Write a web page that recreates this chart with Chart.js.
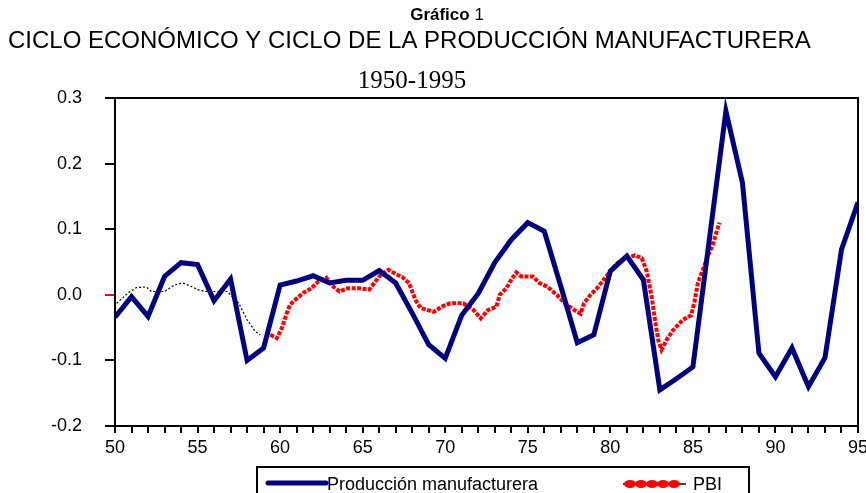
<!DOCTYPE html>
<html>
<head>
<meta charset="utf-8">
<script src="https://cdn.jsdelivr.net/npm/chart.js@4.4.1/dist/chart.umd.min.js"></script>
<style>
  body { margin: 0; background: #fff; }
  canvas { display: block; }
</style>
</head>
<body>
<canvas id="chart" width="866" height="493"></canvas>
<script>
const years = [50, 51, 52, 53, 54, 55, 56, 57, 58, 59, 60, 61, 62, 63, 64, 65, 66, 67, 68, 69, 70,
  71, 72, 73, 74, 75, 76, 77, 78, 79, 80, 81, 82, 83, 84, 85, 86, 87, 88, 89, 90, 91, 92, 93, 94, 95];
const manufactura = [-0.034, -0.003, -0.033, 0.028, 0.049, 0.046, -0.009, 0.024, -0.100, -0.081,
  0.015, 0.021, 0.029, 0.018, 0.022, 0.022, 0.037, 0.018, -0.028, -0.076, -0.097, -0.031, 0.002,
  0.049, 0.084, 0.110, 0.097, 0.013, -0.073, -0.061, 0.036, 0.059, 0.023, -0.145, -0.128, -0.110,
  0.085, 0.280, 0.171, -0.089, -0.125, -0.081, -0.140, -0.096, 0.069, 0.141];

const pbiYears = [50.1, 50.8, 51.3, 51.9, 52.2, 53.0, 53.6, 54.1, 54.6, 55.0, 55.45, 56.8, 57.5, 58.0,
  58.5, 58.8, 59.1, 59.4, 59.8, 60.1, 60.4, 60.6, 60.9, 61.4, 61.9, 62.3, 62.8, 63.1, 63.6, 64.1, 64.8,
  65.4, 65.7, 66.0, 66.55, 67.06, 67.4, 67.8, 68.0, 68.2, 68.5, 68.9, 69.3, 69.8, 70.3, 71.1, 71.7,
  72.15, 72.6, 73.1, 73.3, 73.7, 74.0, 74.3, 74.6, 75.3, 75.7, 76.2, 76.75, 77.25, 77.8, 78.2, 78.4,
  78.8, 79.2, 79.6, 80.0, 80.4, 80.9, 81.5, 81.9, 82.2, 82.5, 82.7, 82.9, 83.1, 83.4, 83.8, 84.4,
  84.9, 85.1, 85.3, 85.6, 85.9, 86.2, 86.6];
const pbi = [-0.013, 0.003, 0.011, 0.012, 0.005, 0.005, 0.015, 0.018, 0.013, 0.008, 0.005, 0.005,
  -0.013, -0.038, -0.056, -0.061, null, -0.061, -0.066, -0.051, -0.028, -0.015, -0.008, 0.003, 0.010,
  0.020, 0.026, 0.015, 0.005, 0.010, 0.010, 0.008, 0.018, 0.028, 0.038, 0.031, 0.027, 0.018, 0.005,
  -0.008, -0.020, -0.023, -0.026, -0.018, -0.013, -0.013, -0.023, -0.036, -0.023, -0.018, 0.000,
  0.010, 0.023, 0.034, 0.028, 0.028, 0.018, 0.012, 0.000, -0.013, -0.023, -0.029, -0.013, 0.000,
  0.010, 0.023, 0.036, 0.048, 0.056, 0.060, 0.056, 0.036, -0.003, -0.038, -0.069, -0.084, -0.069,
  -0.054, -0.038, -0.031, -0.010, 0.018, 0.038, 0.059, 0.076, 0.110];
const pbiRedFrom = 59; // before this the series is drawn as a thin black dotted trace

const yTicks = [-0.2, -0.1, 0.0, 0.1, 0.2, 0.3];

const NAVY = '#000080';
const RED = '#ff0000';
const SANS = '"Liberation Sans", Arial, sans-serif';

const chrome = {
  id: 'chrome',
  afterDraw(chart) {
    const ctx = chart.ctx;
    const a = chart.chartArea;
    ctx.save();
    // frame
    ctx.strokeStyle = '#000';
    ctx.lineWidth = 2;
    ctx.strokeRect(a.left, a.top, a.right - a.left, a.bottom - a.top);

    // titles
    ctx.fillStyle = '#000';
    ctx.textBaseline = 'alphabetic';
    ctx.textAlign = 'left';
    ctx.font = 'bold 17px ' + SANS;
    const w1 = ctx.measureText('Gráfico').width;
    ctx.font = '17px ' + SANS;
    const w2 = ctx.measureText(' 1').width;
    let x = 447 - (w1 + w2) / 2;
    ctx.font = 'bold 17px ' + SANS;
    ctx.fillText('Gráfico', x, 20);
    ctx.font = '17px ' + SANS;
    ctx.fillText(' 1', x + w1, 20);

    ctx.font = '24px ' + SANS;
    ctx.fillText('CICLO ECONÓMICO Y CICLO DE LA PRODUCCIÓN MANUFACTURERA', 8, 48);

    ctx.textAlign = 'center';
    ctx.font = '25px "Liberation Serif", "Times New Roman", serif';
    ctx.fillText('1950-1995', 412, 88);

    // legend box
    ctx.lineWidth = 2;
    ctx.strokeRect(257, 467, 492, 40);
    const ds = chart.data.datasets;
    ctx.lineCap = 'round';
    ctx.strokeStyle = ds[0].borderColor;
    ctx.lineWidth = 5;
    ctx.beginPath();
    ctx.moveTo(268, 483);
    ctx.lineTo(326, 483);
    ctx.stroke();

    ctx.lineCap = 'butt';
    ctx.strokeStyle = '#000';
    ctx.lineWidth = 1.5;
    ctx.beginPath();
    ctx.moveTo(623, 484);
    ctx.lineTo(686, 484);
    ctx.stroke();
    ctx.fillStyle = ds[1].borderColor;
    for (let i = 0; i < 5; i++) {
      ctx.beginPath();
      ctx.ellipse(630 + i * 11, 484, 6, 4, 0, 0, Math.PI * 2);
      ctx.fill();
    }

    ctx.fillStyle = '#000';
    ctx.textAlign = 'left';
    ctx.font = '18px ' + SANS;
    ctx.fillText(ds[0].label, 327, 490);
    ctx.fillText(ds[1].label, 693, 490);
    ctx.restore();
  }
};

new Chart(document.getElementById('chart'), {
  type: 'line',
  data: {
    datasets: [{
      label: 'Producción manufacturera',
      data: years.map((y, i) => ({ x: y, y: manufactura[i] })),
      borderColor: NAVY,
      borderWidth: 5,
      pointRadius: 0,
      tension: 0
    }, {
      label: 'PBI',
      data: pbiYears.map((y, i) => ({ x: y, y: pbi[i] })),
      borderColor: RED,
      borderWidth: 4,
      borderDash: [4, 1.5],
      pointRadius: 0,
      tension: 0,
      spanGaps: false,
      segment: {
        borderColor: c => c.p1.parsed.x < pbiRedFrom ? '#000' : RED,
        borderWidth: c => c.p1.parsed.x < pbiRedFrom ? 1.2 : 4,
        borderDash: c => c.p1.parsed.x < pbiRedFrom ? [2, 2] : [4, 1.5]
      }
    }]
  },
  options: {
    responsive: false,
    animation: false,
    devicePixelRatio: 1,
    layout: { padding: { top: 98, right: 8, bottom: 37, left: 0 } },
    plugins: {
      legend: { display: false },
      tooltip: { enabled: false }
    },
    scales: {
      x: {
        type: 'linear',
        min: 50,
        max: 95,
        afterFit: s => { s.height = 30; s.paddingLeft = 0; s.paddingRight = 0; },
        border: { display: true, color: '#000', width: 2 },
        grid: { drawOnChartArea: false, drawTicks: true, tickLength: 7, color: '#000', lineWidth: 2 },
        ticks: {
          stepSize: 1,
          autoSkip: false,
          maxRotation: 0,
          padding: 4,
          color: '#000',
          font: { family: SANS, size: 18 },
          callback: v => v % 5 === 0 ? String(v) : ''
        }
      },
      y: {
        min: -0.2,
        max: 0.3,
        afterFit: s => { s.width = 115; },
        afterBuildTicks: s => { s.ticks = yTicks.map(v => ({ value: v })); },
        border: { display: true, color: '#000', width: 2 },
        grid: {
          drawOnChartArea: false, drawTicks: true, tickLength: 10, lineWidth: 2,
          color: c => c.tick && c.tick.value === 0 ? RED : '#000'
        },
        ticks: {
          padding: 23,
          color: '#000',
          font: { family: SANS, size: 18 },
          callback: v => v.toFixed(1)
        }
      }
    }
  },
  plugins: [chrome]
});
</script>
</body>
</html>
